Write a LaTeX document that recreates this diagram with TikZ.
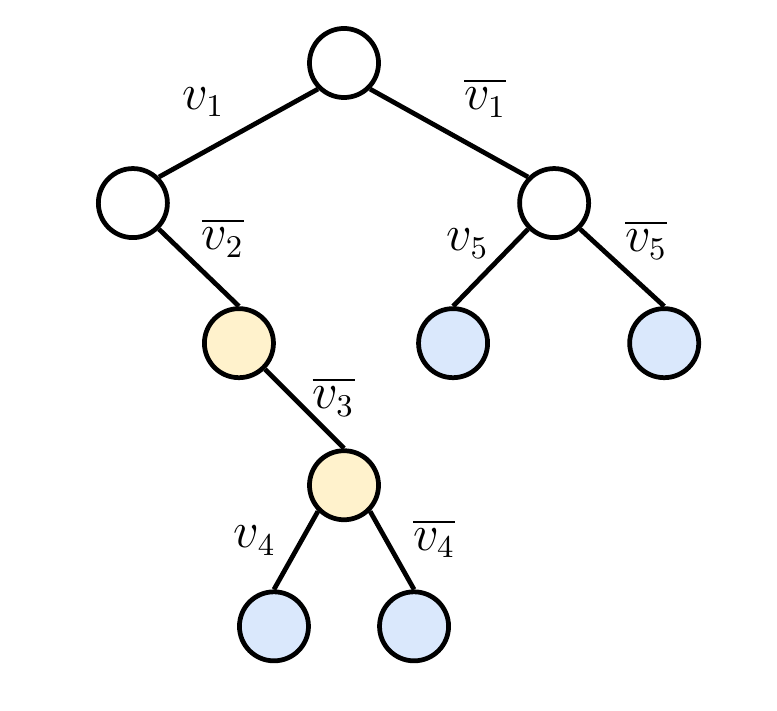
\documentclass[tikz,border=0pt]{standalone}
\usepackage{amssymb,amsfonts,amsmath}
\usepackage{tikz}
\usetikzlibrary{positioning}
\definecolor{leafblue}{HTML}{DAE8FC}
\definecolor{midyellow}{HTML}{FFF2CC}

\begin{document}
\begin{tikzpicture}
		[x=0.01cm, y=-0.01cm, node distance=1.4cm, on grid,
		 vert/.style = {draw, line width=1.35pt, shape=circle, minimum size=0.69cm, inner sep=0pt, fill=white},
		 yvert/.style = {vert, fill=midyellow},
		 bvert/.style = {vert, fill=leafblue},
		 lbl/.style = {inner sep=0pt, font=\fontsize{13.5pt}{16pt}\selectfont},
		 edge/.style = {line width=1.35pt},
		]

	\useasboundingbox (0,0) rectangle (777,710);

	\node [vert] at (344,63)                         (root) {};
	\node [vert, below left=1.40cm and 2.11cm of root]  (a)    {};
	\node [vert, below right=1.40cm and 2.10cm of root] (b)    {};
	\node [yvert, below right=1.40cm and 1.06cm of a]   (a2)   {};
	\node [bvert, below left=1.40cm and 1.01cm of b]    (b1)   {};
	\node [bvert, below right=1.40cm and 1.10cm of b]   (b2)   {};
	\node [yvert, below right=1.42cm and 1.05cm of a2]  (a3)   {};
	\node [bvert, below left=1.41cm and 0.70cm of a3]   (a4)   {};
	\node [bvert, below right=1.41cm and 0.70cm of a3]  (a5)   {};

	\draw[edge] (root.south west) -- node[lbl, shift={(-35,-31)}] {$v_1$} (a.north east);
	\draw[edge] (root.south east) -- node[lbl, shift={(36,-35)}] {$\overline{v_1}$} (b.north west);
	\draw[edge] (a.south east) -- node[lbl, shift={(24,-30)}] {$\overline{v_2}$} (a2.north);
	\draw[edge] (b.south west) -- node[lbl, shift={(-23,-24)}] {$v_5$} (b1.north);
	\draw[edge] (b.south east) -- node[lbl, shift={(24,-28)}] {$\overline{v_5}$} (b2.north);
	\draw[edge] (a2.south east) -- node[lbl, shift={(29,-12)}] {$\overline{v_3}$} (a3.north);
	\draw[edge] (a3.south west) -- node[lbl, shift={(-41,-10)}] {$v_4$} (a4.north);
	\draw[edge] (a3.south east) -- node[lbl, shift={(42,-12)}] {$\overline{v_4}$} (a5.north);

\end{tikzpicture}
\end{document}
